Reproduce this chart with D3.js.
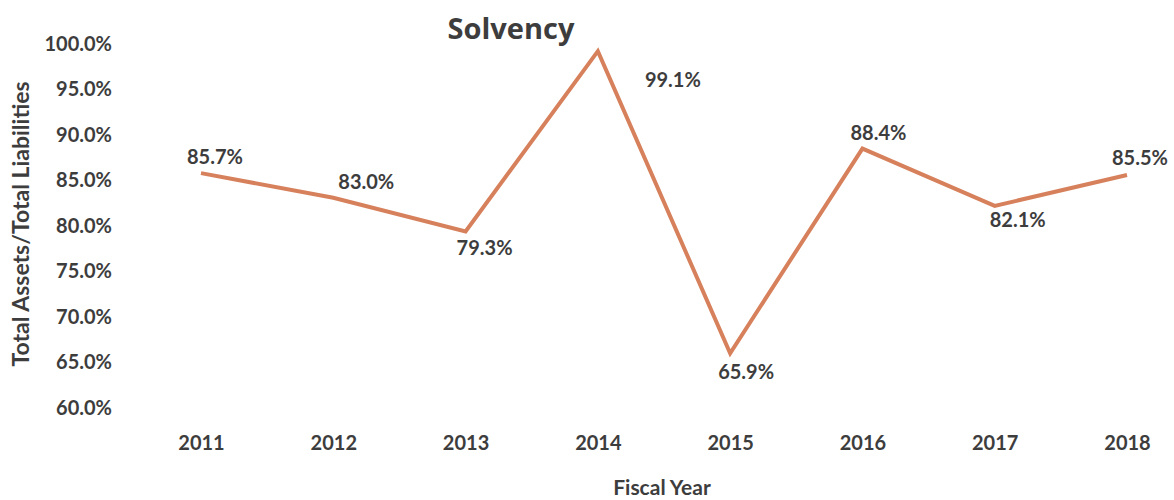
<!DOCTYPE html>
<html>
<head>
<meta charset="utf-8">
<script src="https://cdn.jsdelivr.net/npm/d3@7"></script>
<style>
  body { margin: 0; background: #fff; }
  svg text { font-family: Lato, "Open Sans", sans-serif; font-weight: bold; fill: #3d3d3d; }
</style>
</head>
<body>
<svg id="chart" width="1174" height="500"></svg>
<script>
var years   = ["2011", "2012", "2013", "2014", "2015", "2016", "2017", "2018"];
var solvency = [85.7, 83.0, 79.3, 99.1, 65.9, 88.4, 82.1, 85.5];
var y_ticks = [60, 65, 70, 75, 80, 85, 90, 95, 100];

// label nudges, relative to each point (the source places them by hand)
var label_dx = [14, 33, 19, 75, 16, 16, 23, 13];
var label_dy = [-16, -16, 17, 29, 19, -16, 14, -17];

var svg = d3.select("#chart");

var x = d3.scalePoint().domain(years).range([201, 1127]);
var y = d3.scaleLinear().domain([60, 100]).range([407, 43]);

var fmt = function (v) { return d3.format(".1f")(v) + "%"; };

// y axis, labels only
var y_axis = d3.axisLeft(y).tickValues(y_ticks).tickFormat(fmt).tickSize(0).tickPadding(0);
var gy = svg.append("g").attr("transform", "translate(112,0)").call(y_axis);
gy.select(".domain").remove();
gy.selectAll("text").style("font-size", "20px").attr("dy", "0.35em");

// x axis, labels only
var x_axis = d3.axisBottom(x).tickSize(0).tickPadding(0);
var gx = svg.append("g").attr("transform", "translate(0,436)").call(x_axis);
gx.select(".domain").remove();
gx.selectAll("text").style("font-size", "20px").attr("dy", "0.71em");

var line = d3.line()
  .x(function (d, i) { return x(years[i]); })
  .y(function (d) { return y(d); });

svg.append("path")
   .datum(solvency)
   .attr("d", line)
   .attr("fill", "none")
   .attr("stroke", "#d7815c")
   .attr("stroke-width", 4)
   .attr("stroke-linejoin", "miter");

svg.selectAll(".val")
   .data(solvency)
   .enter().append("text")
   .attr("class", "val")
   .attr("x", function (d, i) { return x(years[i]) + label_dx[i]; })
   .attr("y", function (d, i) { return y(d) + label_dy[i]; })
   .attr("dy", "0.35em")
   .attr("text-anchor", "middle")
   .style("font-size", "20px")
   .text(fmt);

svg.append("text")
   .attr("x", 511).attr("y", 39)
   .attr("text-anchor", "middle")
   .style("font-family", "'Open Sans', sans-serif")
   .style("font-size", "29px")
   .text("Solvency");

svg.append("text")
   .attr("x", 662).attr("y", 495)
   .attr("text-anchor", "middle")
   .style("font-size", "21px")
   .text("Fiscal Year");

svg.append("text")
   .attr("transform", "translate(29,224) rotate(-90)")
   .attr("text-anchor", "middle")
   .style("font-size", "23px")
   .text("Total Assets/Total Liabilities");
</script>
</body>
</html>
